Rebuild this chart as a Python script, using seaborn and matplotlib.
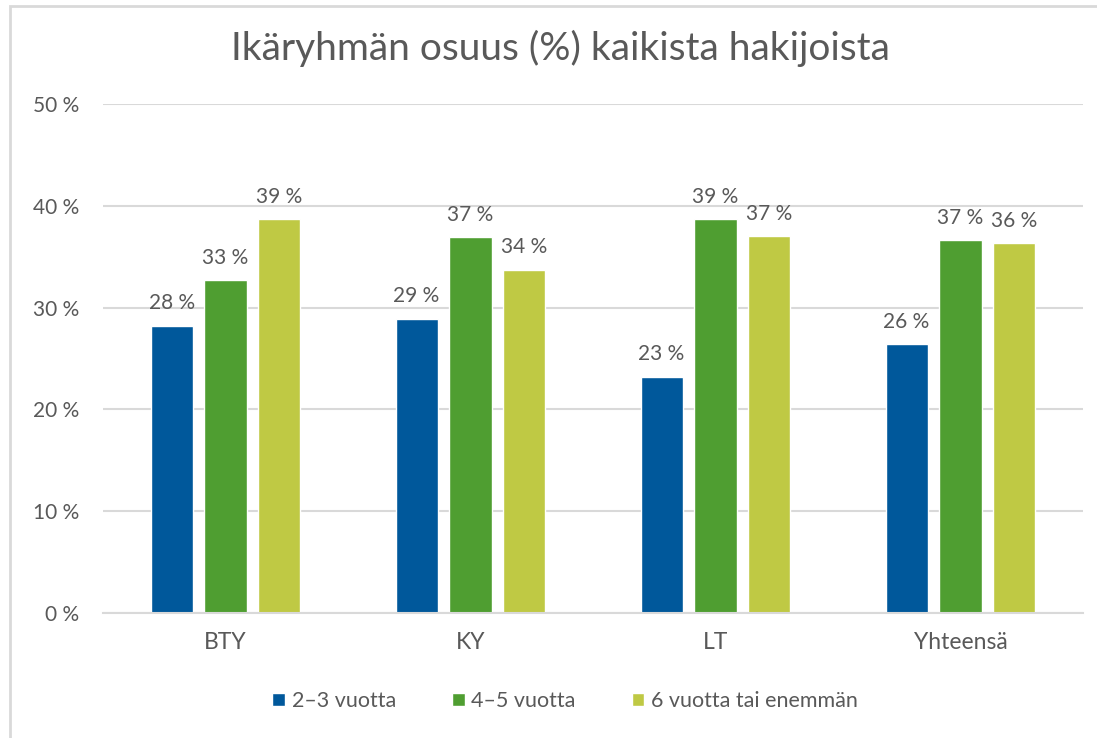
import pandas as pd
import matplotlib.pyplot as plt
import matplotlib.patches as mpatches
import seaborn as sns

categories = ["BTY", "KY", "LT", "Yhteensä"]
groups = ["2–3 vuotta", "4–5 vuotta", "6 vuotta tai enemmän"]
values_23 = [28.2, 28.9, 23.2, 26.4]
values_45 = [32.7, 36.9, 38.7, 36.6]
values_6 = [38.7, 33.7, 37.0, 36.3]
colors = ["#00589B", "#4F9E31", "#BFC944"]

df = pd.DataFrame({
    "cat": categories * 3,
    "group": [groups[0]] * 4 + [groups[1]] * 4 + [groups[2]] * 4,
    "value": values_23 + values_45 + values_6,
})

sns.set_style("white")
plt.rcParams["font.family"] = ["Lato", "DejaVu Sans"]
text_col = "#595959"

fig = plt.figure(figsize=(10.97, 7.38), dpi=100)
ax = fig.add_axes([103 / 1097, 1 - 613 / 738, 980 / 1097, 509 / 738])

sns.barplot(data=df, x="cat", y="value", hue="group", palette=colors,
            width=0.66, gap=0.22, ax=ax, legend=True, saturation=1)

for cont in ax.containers:
    ax.bar_label(cont, labels=[f"{int(v.get_height() + 0.5)} %" for v in cont],
                 padding=9, fontsize=15, color=text_col)

ax.set_ylim(0, 50)
ax.set_xlim(-0.5, 3.5)
ax.set_yticks(range(0, 51, 10))
ax.set_yticklabels([f"{v} %" for v in range(0, 51, 10)])
ax.yaxis.grid(True, color="#D9D9D9", linewidth=1.5)
ax.set_axisbelow(True)
for s in ["top", "right", "left"]:
    ax.spines[s].set_visible(False)
ax.spines["bottom"].set_color("#D9D9D9")
ax.spines["bottom"].set_linewidth(1.5)
ax.tick_params(axis="y", length=0, pad=17, labelsize=15, labelcolor=text_col)
ax.tick_params(axis="x", length=0, pad=14, labelsize=16.5, labelcolor=text_col)
ax.set_xlabel("")
ax.set_ylabel("")

fig.text(560 / 1097, 1 - 48 / 738, "Ikäryhmän osuus (%) kaikista hakijoista",
         ha="center", va="center", fontsize=28, color=text_col)

handles, labels = ax.get_legend_handles_labels()
ax.get_legend().remove()
fig.legend(handles, labels, loc="center", bbox_to_anchor=(565 / 1097, 1 - 701 / 738),
           ncol=3, frameon=False, fontsize=15.5, labelcolor=text_col,
           handlelength=0.6, handleheight=0.6, handletextpad=0.3, columnspacing=2.6)

# chart frame
fig.patches.append(mpatches.Rectangle((10 / 1097, -0.1), 1.2, 1 - 6 / 738 + 0.1,
                                      transform=fig.transFigure, fill=False,
                                      edgecolor="#D9D9D9", linewidth=2))

fig.savefig("out.png", dpi=100)
